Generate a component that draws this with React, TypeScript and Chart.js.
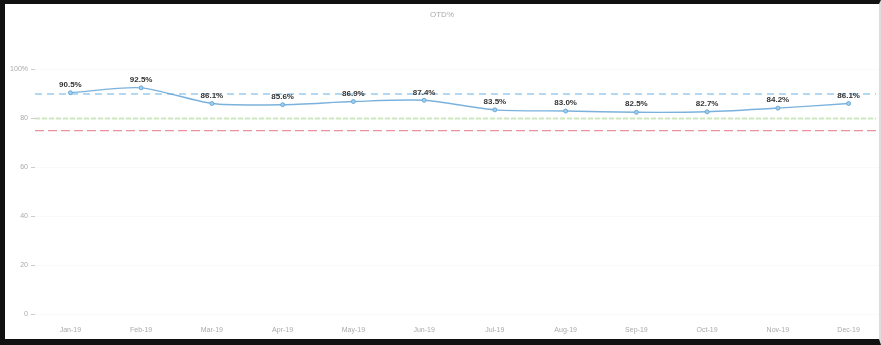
import React, { useEffect, useRef } from "react";
import { Chart, registerables } from "chart.js";

Chart.register(...registerables);

const months = ["Jan-19", "Feb-19", "Mar-19", "Apr-19", "May-19", "Jun-19", "Jul-19", "Aug-19", "Sep-19", "Oct-19", "Nov-19", "Dec-19"];
const otdValues = [90.5, 92.5, 86.1, 85.6, 86.9, 87.4, 83.5, 83.0, 82.5, 82.7, 84.2, 86.1];
const targetLine = 90;
const warningLine = 80;
const criticalLine = 75;
const yTicks = [0, 20, 40, 60, 80, 100];

// Horizontal reference lines spanning the full plot width
const refLinesPlugin = {
  id: "refLines",
  beforeDatasetsDraw(chart: any) {
    const { ctx, chartArea } = chart;
    const y = chart.scales.y;
    const lines = [
      { v: targetLine, color: "rgba(120,185,230,0.75)", dash: [7, 5], width: 1.6 },
      { v: warningLine, color: "rgba(195,228,180,0.85)", dash: [5, 2], width: 2 },
      { v: criticalLine, color: "rgba(225,110,130,0.75)", dash: [9, 4], width: 1.4 },
    ];
    ctx.save();
    for (const l of lines) {
      const py = y.getPixelForValue(l.v);
      ctx.beginPath();
      ctx.setLineDash(l.dash);
      ctx.strokeStyle = l.color;
      ctx.lineWidth = l.width;
      ctx.moveTo(chartArea.left, py);
      ctx.lineTo(Math.min(chartArea.right, 876), py);
      ctx.stroke();
    }
    ctx.restore();
  },
};

// Percentage labels above each point
const valueLabelsPlugin = {
  id: "valueLabels",
  afterDatasetsDraw(chart: any) {
    const { ctx } = chart;
    const meta = chart.getDatasetMeta(0);
    const data = chart.data.datasets[0].data as number[];
    ctx.save();
    ctx.font = "bold 8px 'Liberation Sans', Arial, sans-serif";
    ctx.fillStyle = "#333";
    ctx.textAlign = "center";
    ctx.textBaseline = "middle";
    meta.data.forEach((pt: any, i: number) => {
      ctx.fillText(data[i].toFixed(1) + "%", pt.x, pt.y - 8);
    });
    ctx.restore();
  },
};

export default function App() {
  const ref = useRef<HTMLCanvasElement>(null);

  useEffect(() => {
    document.body.style.margin = "0";
    const chart = new Chart(ref.current!, {
      type: "line",
      data: {
        labels: months,
        datasets: [
          {
            label: "OTD%",
            data: otdValues,
            borderColor: "rgba(100,165,215,0.85)",
            borderWidth: 1.4,
            backgroundColor: "rgba(160,205,235,1)",
            pointRadius: 2,
            pointBorderColor: "rgba(100,165,215,0.9)",
            pointBorderWidth: 1,
            tension: 0.25,
            fill: false,
          },
        ],
      },
      options: {
        animation: false,
        responsive: false,
        layout: { padding: { top: 4, right: 6, bottom: 0, left: 0 } },
        plugins: {
          legend: { display: false },
          tooltip: { enabled: false },
          title: {
            display: true,
            text: "OTD%",
            color: "#aaa",
            font: { size: 8, family: "'Liberation Sans', Arial, sans-serif", weight: "normal" },
            padding: { top: 6, bottom: 1 },
          },
        },
        scales: {
          x: {
            offset: true,
            grid: { display: false },
            border: { display: false },
            ticks: {
              color: "#aaa",
              font: { size: 7, family: "'Liberation Sans', Arial, sans-serif" },
              maxRotation: 0,
              autoSkip: false,
              padding: 4,
            },
            afterFit(s: any) {
              s.height = 31;
            },
          },
          y: {
            min: 0,
            max: 120,
            afterBuildTicks(s: any) {
              s.ticks = yTicks.map((v) => ({ value: v }));
            },
            grid: { color: "rgba(0,0,0,0.025)", tickColor: "#ccc", tickLength: 4 },
            border: { display: false },
            ticks: {
              color: "#aaa",
              font: { size: 7, family: "'Liberation Sans', Arial, sans-serif" },
              padding: 3,
              callback: (v: any) => (v === 100 ? "100%" : String(v)),
            },
            afterFit(s: any) {
              s.width = 35;
            },
          },
        },
      },
      plugins: [refLinesPlugin, valueLabelsPlugin],
    });
    return () => chart.destroy();
  }, []);

  return (
    <div style={{ position: "absolute", left: 0, top: 0, width: 881, height: 345, background: "#fff", overflow: "hidden" }}>
      <canvas ref={ref} width={890} height={345} style={{ position: "absolute", left: 0, top: 0 }} />
      <div
        style={{
          position: "absolute",
          left: 0,
          top: 0,
          width: 881,
          height: 345,
          boxSizing: "border-box",
          borderTop: "4px solid #111",
          borderLeft: "5px solid #111",
          borderBottom: "6px solid #111",
          borderRight: "2px solid #ddd",
          pointerEvents: "none",
        }}
      />
    </div>
  );
}
